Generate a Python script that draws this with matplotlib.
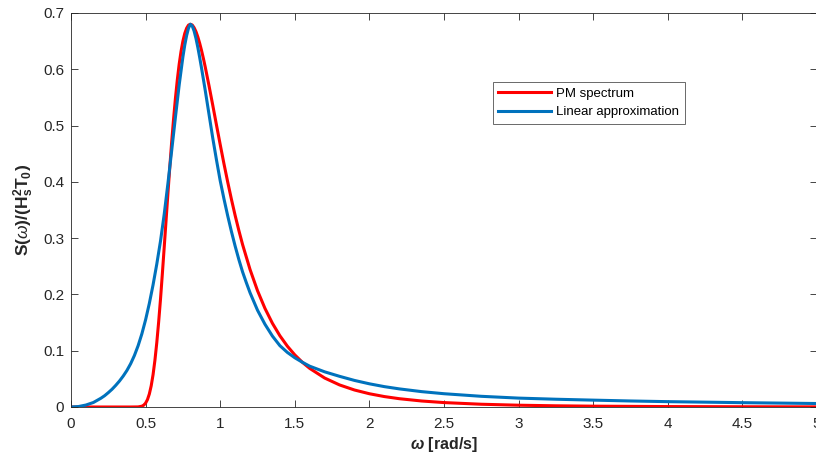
import matplotlib
matplotlib.use("Agg")
import matplotlib.pyplot as plt

# ---- data ----
pm_w = [0.0, 0.2, 0.4, 0.45, 0.475, 0.4875, 0.5, 0.5125, 0.525, 0.5375, 0.55, 0.5625,
        0.575, 0.5875, 0.6, 0.6125, 0.625, 0.6375, 0.65, 0.6625, 0.675, 0.6875, 0.7,
        0.7125, 0.725, 0.7375, 0.75, 0.7625, 0.775, 0.7875, 0.8, 0.8125, 0.825, 0.8375,
        0.85, 0.8625, 0.875, 0.8875, 0.9, 0.925, 0.95, 0.975, 1.0, 1.025, 1.05, 1.075,
        1.1, 1.125, 1.15, 1.2, 1.25, 1.3, 1.35, 1.4, 1.45, 1.5, 1.55, 1.6, 1.7, 1.8,
        1.9, 2.0, 2.1, 2.2, 2.35, 2.5, 2.75, 3.0, 3.25, 3.5, 4.0, 4.5, 5.0]
pm_s = [0.0, 0.0, 0.0, 0.00016, 0.00138, 0.00327, 0.0069, 0.01316, 0.0231, 0.03758, 0.0574, 0.08306,
        0.1144, 0.1511, 0.192, 0.2375, 0.2847, 0.3329, 0.381, 0.4274, 0.4717, 0.5119, 0.5486,
        0.5811, 0.609, 0.6317, 0.650, 0.6638, 0.673, 0.6785, 0.680, 0.6787, 0.674, 0.667,
        0.6575, 0.6462, 0.6333, 0.6191, 0.6037, 0.5708, 0.5363, 0.5011, 0.4663, 0.4324, 0.4001, 0.3693,
        0.3405, 0.3136, 0.2886, 0.2443, 0.2067, 0.1752, 0.1487, 0.1266, 0.1081, 0.0926, 0.0796, 0.0686, 0.0515, 0.0392,
        0.0302, 0.02355, 0.01855, 0.01477, 0.01067, 0.00786, 0.0049, 0.00318, 0.00214, 0.00148, 0.00076, 0.00042, 0.00025]

lin_w = [0.0, 0.05, 0.1, 0.15, 0.2, 0.225, 0.25, 0.275, 0.3, 0.325, 0.35, 0.375, 0.4, 0.425,
         0.45, 0.475, 0.5, 0.525, 0.55, 0.575, 0.6, 0.625, 0.65, 0.675, 0.7, 0.725, 0.75,
         0.7625, 0.775, 0.7875, 0.8, 0.8125, 0.825, 0.8375, 0.85, 0.8625, 0.875, 0.8875,
         0.9, 0.925, 0.95, 0.975, 1.0, 1.025, 1.05, 1.075, 1.1, 1.125, 1.15, 1.175, 1.2,
         1.25, 1.3, 1.35, 1.4, 1.45, 1.5, 1.55, 1.6, 1.7, 1.8, 1.9, 2.0, 2.1, 2.2, 2.35,
         2.5, 2.75, 3.0, 3.25, 3.5, 3.75, 4.0, 4.5, 5.0]
lin_s = [0.0, 0.0008, 0.0035, 0.008, 0.0155, 0.020, 0.0255, 0.0315, 0.0385, 0.0462, 0.055, 0.065, 0.077, 0.0915,
         0.109, 0.130, 0.155, 0.184, 0.217, 0.254, 0.295, 0.343, 0.398, 0.456, 0.515, 0.572, 0.622,
         0.643, 0.660, 0.673, 0.680, 0.677, 0.668, 0.655, 0.639, 0.621, 0.602, 0.582,
         0.562, 0.520, 0.478, 0.439, 0.402, 0.370, 0.340, 0.312, 0.286, 0.262, 0.240, 0.221, 0.203,
         0.172, 0.147, 0.126, 0.109, 0.097, 0.0875, 0.0796, 0.0725, 0.0625, 0.0545, 0.0472, 0.0412, 0.0362, 0.0322, 0.0273,
         0.0236, 0.0190, 0.0158, 0.0138, 0.0122, 0.0107, 0.0095, 0.0077, 0.0062]

x_ticks = [0, 0.5, 1, 1.5, 2, 2.5, 3, 3.5, 4, 4.5, 5]
x_tick_labels = ["0", "0.5", "1", "1.5", "2", "2.5", "3", "3.5", "4", "4.5", "5"]
y_ticks = [0, 0.1, 0.2, 0.3, 0.4, 0.5, 0.6, 0.7]
y_tick_labels = ["0", "0.1", "0.2", "0.3", "0.4", "0.5", "0.6", "0.7"]

# ---- style ----
plt.rcParams['font.family'] = ['Liberation Sans', 'DejaVu Sans']
plt.rcParams['mathtext.fontset'] = 'custom'
plt.rcParams['mathtext.rm'] = 'Liberation Sans:bold'
plt.rcParams['mathtext.bf'] = 'Liberation Sans:bold'
plt.rcParams['mathtext.it'] = 'Liberation Sans:italic'
plt.rcParams['mathtext.sf'] = 'Liberation Sans:bold:italic'

ink = '#262626'
W, H = 816, 458
fig = plt.figure(figsize=(W / 100, H / 100), dpi=100)
ax = fig.add_axes([71 / W, 1 - 407 / H, (817 - 71) / W, (407 - 13) / H])

ax.plot(pm_w, pm_s, color='#FF0000', lw=2.2, label='PM spectrum', solid_joinstyle='round')
ax.plot(lin_w, lin_s, color='#0072BD', lw=2.2, label='Linear approximation', solid_joinstyle='round')

ax.set_xlim(0, 5)
ax.set_ylim(0, 0.7)
ax.set_xticks(x_ticks)
ax.set_xticklabels(x_tick_labels)
ax.set_yticks(y_ticks)
ax.set_yticklabels(y_tick_labels)

ax.tick_params(axis='both', direction='in', length=5, width=0.6, colors=ink,
               top=True, right=True, labelsize=11)
ax.tick_params(axis='x', pad=7)
ax.tick_params(axis='y', pad=5)
for s in ax.spines.values():
    s.set_color(ink)
    s.set_linewidth(0.6)

ax.set_xlabel(r'$\mathsf{\omega}$ [rad/s]', fontsize=11.5, fontweight='bold', color=ink, labelpad=3)
ax.set_ylabel(r'$\mathrm{S(}\omega\mathrm{)/(H_s^2T_0)}$', fontsize=12.5, color=ink, labelpad=5)

leg = ax.legend(loc='upper left', bbox_to_anchor=(493 / W, 1 - 82 / H),
                bbox_transform=fig.transFigure, fontsize=9.5, frameon=True, fancybox=False,
                handlelength=4.0, handletextpad=0.4, borderpad=0.4, labelspacing=0.5,
                borderaxespad=0)
leg.get_frame().set_edgecolor(ink)
leg.get_frame().set_linewidth(0.6)
for t in leg.get_texts():
    t.set_color('black')

fig.savefig('out.png', dpi=100)
